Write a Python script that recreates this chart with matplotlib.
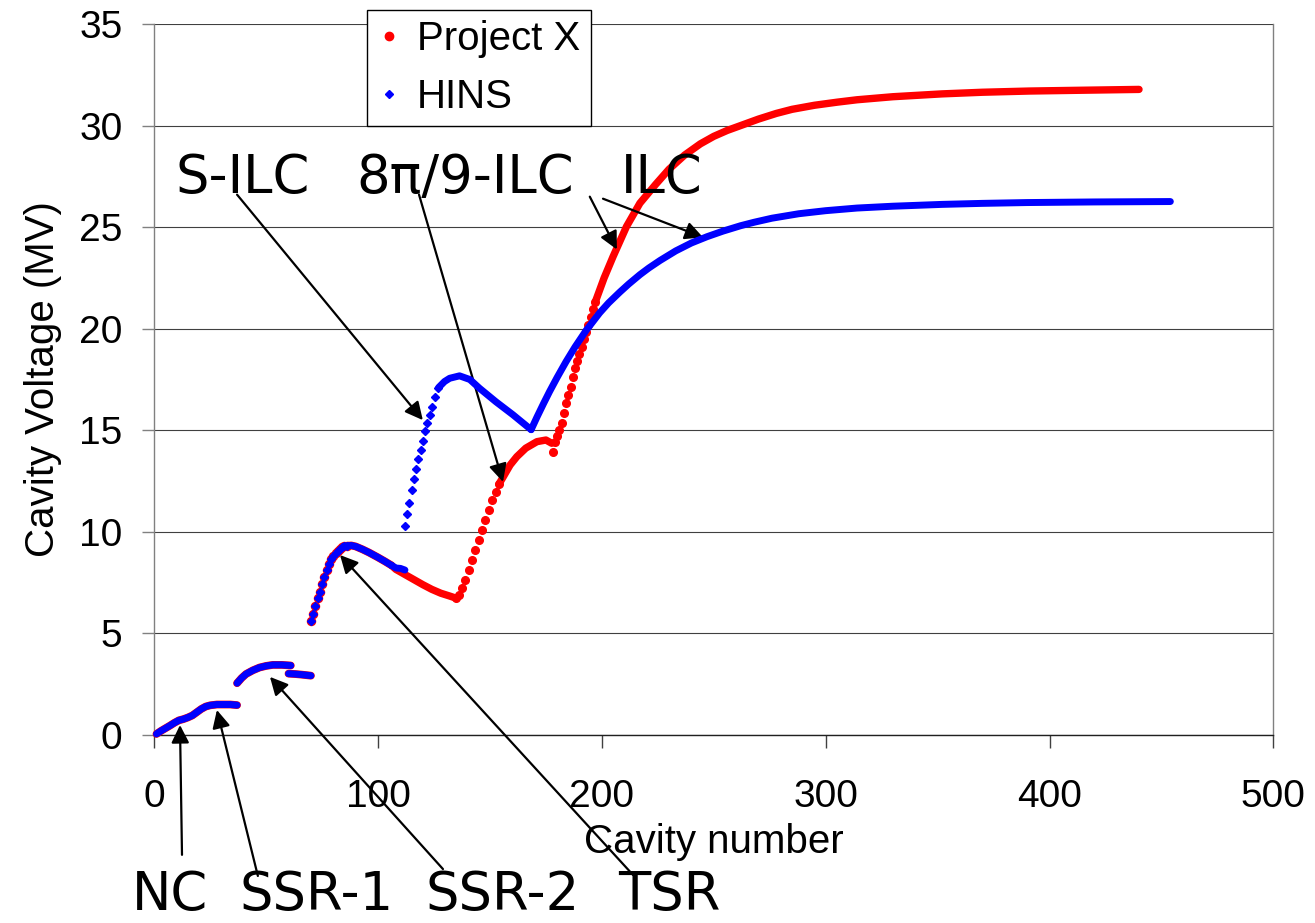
import matplotlib
matplotlib.use("Agg")
import matplotlib.pyplot as plt
from matplotlib.lines import Line2D

plt.rcParams['font.family'] = ['Liberation Sans', 'DejaVu Sans']

# ---- data (cavity number, cavity voltage in MV) ----
# low energy part is common to both linacs (NC, SSR-1, SSR-2, TSR)
nc_ssr1_cav = [1, 3, 5, 7, 9, 11, 13, 15, 17, 19, 21, 23, 25, 28, 31, 34, 37]
nc_ssr1_v = [0.05, 0.2, 0.33, 0.46, 0.6, 0.72, 0.78, 0.86, 0.96, 1.12, 1.28, 1.4, 1.46, 1.5, 1.5, 1.5, 1.47]

ssr2_cav = [37, 39, 41, 44, 47, 50, 53, 57, 61]
ssr2_v = [2.55, 2.8, 3.0, 3.18, 3.32, 3.4, 3.45, 3.45, 3.42]

ssr2b_cav = [60, 63, 66, 70]
ssr2b_v = [3.02, 3.0, 2.97, 2.92]

tsr_rise_cav = [70, 71, 72, 73, 74, 75, 76, 77, 78, 79, 80, 81, 82, 83, 84, 85, 86]
tsr_rise_v = [5.62, 5.98, 6.36, 6.72, 7.02, 7.42, 7.78, 8.1, 8.42, 8.66, 8.82, 8.98, 9.08, 9.18, 9.24, 9.28, 9.31]

tsr_fall_cav = [86, 88, 90, 93, 96, 100, 103, 106]
tsr_fall_v = [9.31, 9.33, 9.28, 9.14, 8.98, 8.74, 8.55, 8.35]

# Project X after the common part
px_tsr_cav = [106, 108, 112, 116, 120, 124, 128, 132, 135]
px_tsr_v = [8.35, 8.15, 7.9, 7.65, 7.4, 7.17, 6.98, 6.84, 6.73]

px_b89_dots_cav = [135, 136, 137.5, 139, 140.5, 142, 143.5, 145, 146.5, 148, 149.5, 151, 152.5, 154]
px_b89_dots_v = [6.73, 6.9, 7.25, 7.65, 8.12, 8.6, 9.1, 9.6, 10.1, 10.6, 11.08, 11.55, 11.98, 12.35]

px_b89_cav = [154, 156, 159, 162, 166, 171, 175, 177.6]
px_b89_v = [12.35, 12.72, 13.29, 13.7, 14.12, 14.44, 14.52, 14.36]

px_ilc_dots_cav = [178, 179, 180, 181, 182, 183, 184, 185, 186, 187, 188, 189, 190, 191, 192, 193, 194, 195, 196, 197]
px_ilc_dots_v = [13.95, 14.4, 14.7, 15.0, 15.35, 15.85, 16.35, 16.75, 17.15, 17.6, 18.05, 18.4,
                 18.75, 19.1, 19.5, 19.85, 20.2, 20.6, 20.95, 21.3]

px_ilc_cav = [197, 201, 205, 211, 217, 224, 230, 237, 244, 250, 256, 262, 270, 278, 285, 295,
              305, 314, 330, 352, 370, 391, 415, 440]
px_ilc_v = [21.3, 22.5, 23.55, 25.03, 26.18, 27.1, 27.85, 28.55, 29.1, 29.47, 29.76, 30.0, 30.32,
            30.6, 30.8, 31.0, 31.15, 31.27, 31.42, 31.56, 31.64, 31.7, 31.74, 31.78]

# HINS after the common part
hins_tsr_cav = [106, 108, 110, 112]
hins_tsr_v = [8.35, 8.22, 8.2, 8.12]

hins_silc_dots_cav = [112, 113, 114, 115, 116, 117, 118, 119, 120, 121, 122, 123, 124, 125.5, 127]
hins_silc_dots_v = [10.3, 10.9, 11.43, 12.04, 12.58, 13.07, 13.59, 14.05, 14.48, 14.95, 15.36,
                    15.77, 16.17, 16.66, 17.1]

hins_silc_cav = [127, 129.7, 132, 136.4, 141, 145.3, 152.7, 160.2, 168.4]
hins_silc_v = [17.1, 17.4, 17.56, 17.68, 17.5, 17.07, 16.4, 15.77, 15.03]

hins_ilc_cav = [168.4, 171, 174, 176.6, 180, 184, 188, 193, 199, 203, 208, 212, 217, 221, 226,
                233, 240, 247, 254, 262, 268, 276, 288, 300, 314, 330, 352, 370, 390, 420, 454]
hins_ilc_v = [15.03, 15.65, 16.33, 16.9, 17.6, 18.38, 19.1, 19.92, 20.78, 21.27, 21.8, 22.2, 22.66,
              22.99, 23.36, 23.83, 24.22, 24.53, 24.8, 25.07, 25.24, 25.44, 25.66, 25.81, 25.94,
              26.03, 26.12, 26.17, 26.21, 26.24, 26.26]

RED = '#FF0000'
BLUE = '#0000FF'

fig = plt.figure(figsize=(13.15, 9.23), dpi=100)
ax = fig.add_axes([0.1173, 0.2037, 0.851, 0.7703])


def dense(x, y, color, lw):
    ax.plot(x, y, color=color, lw=lw, solid_capstyle='round', solid_joinstyle='round',
            clip_on=False, zorder=3 if color == RED else 4)


def dots(x, y, color, marker, ms):
    ax.plot(x, y, ls='none', marker=marker, ms=ms, color=color, mec=color,
            clip_on=False, zorder=3 if color == RED else 4)


# Project X (drawn first, HINS sits on top of the common part)
dense(nc_ssr1_cav, nc_ssr1_v, RED, 5.6)
dense(ssr2_cav, ssr2_v, RED, 5.6)
dense(ssr2b_cav, ssr2b_v, RED, 5.6)
dots(tsr_rise_cav, tsr_rise_v, RED, 'o', 5.8)
dense(tsr_fall_cav, tsr_fall_v, RED, 5.6)
dense(px_tsr_cav, px_tsr_v, RED, 5.3)
dots(px_b89_dots_cav, px_b89_dots_v, RED, 'o', 5.5)
dense(px_b89_cav, px_b89_v, RED, 5.3)
dots(px_ilc_dots_cav, px_ilc_dots_v, RED, 'o', 5.5)
dense(px_ilc_cav, px_ilc_v, RED, 5.3)

# HINS
dense(nc_ssr1_cav, nc_ssr1_v, BLUE, 5.0)
dense(ssr2_cav, ssr2_v, BLUE, 5.0)
dense(ssr2b_cav, ssr2b_v, BLUE, 5.0)
dots(tsr_rise_cav, tsr_rise_v, BLUE, 'D', 4.0)
dense(tsr_fall_cav, tsr_fall_v, BLUE, 5.0)
dense(hins_tsr_cav, hins_tsr_v, BLUE, 5.0)
dots(hins_silc_dots_cav, hins_silc_dots_v, BLUE, 'D', 4.0)
dense(hins_silc_cav, hins_silc_v, BLUE, 5.0)
dense(hins_ilc_cav, hins_ilc_v, BLUE, 5.0)

ax.set_xlim(0, 500)
ax.set_ylim(0, 35)
ax.set_xticks(range(0, 501, 100))
ax.set_yticks(range(0, 36, 5))
ax.yaxis.grid(True, color='#404040', lw=0.8)
ax.set_axisbelow(True)
ax.tick_params(axis='both', direction='out', length=9, width=1, labelsize=28)
ax.tick_params(axis='x', pad=23, color='#404040')
ax.tick_params(axis='y', pad=14, color='#808080')
ax.spines['top'].set_visible(False)
ax.spines['right'].set_color('#808080')
ax.spines['left'].set_color('#808080')
ax.spines['bottom'].set_color('#202020')
for s in ax.spines.values():
    s.set_linewidth(1)

ax.set_xlabel('Cavity number', fontsize=29)
ax.set_ylabel('Cavity Voltage (MV)', fontsize=29)
ax.xaxis.set_label_coords(0.5, -0.124)
ax.yaxis.set_label_coords(-0.082, 0.5)

handles = [Line2D([], [], ls='none', marker='o', ms=6, color=RED),
           Line2D([], [], ls='none', marker='D', ms=4.5, color=BLUE)]
leg = ax.legend(handles, ['Project X', 'HINS'], loc='upper left', bbox_to_anchor=(0.19, 1.0197),
                borderaxespad=0, fontsize=29, frameon=True, fancybox=False, framealpha=1,
                edgecolor='black', handlelength=0.6, handletextpad=0.4, borderpad=0.25,
                labelspacing=0.5)
leg.get_frame().set_linewidth(1)
leg.set_zorder(10)

# handwritten style labels with arrows
hand = dict(fontsize=38, family=['DejaVu Sans'], ha='left', clip_on=False)
top_labels = [('S-ILC', 9.7), ('8\u03c0/9-ILC', 90.1), ('ILC', 208.5)]
for txt, x in top_labels:
    ax.text(x, 26.69, txt, va='baseline', **hand)
bottom_labels = [('NC', -10.0), ('SSR-1', 38.3), ('SSR-2', 121.0), ('TSR', 207.2)]
for txt, x in bottom_labels:
    ax.text(x, -9.17, txt, va='bottom', **hand)

arrows = [((11.5, 0.49), (12.4, -5.9)),
          ((28.0, 1.23), (46.3, -6.94)),
          ((51.7, 2.86), (129.0, -6.6)),
          ((83.0, 8.86), (214.0, -6.9)),
          ((120.0, 15.5), (37.0, 26.6)),
          ((155.8, 12.46), (118.3, 26.6)),
          ((206.7, 23.9), (194.6, 26.5)),
          ((245.2, 24.5), (200.5, 26.4))]
for tip, tail in arrows:
    ax.annotate('', xy=tip, xytext=tail, annotation_clip=False,
                arrowprops=dict(arrowstyle='-|>', color='black', lw=1.6,
                                mutation_scale=27, shrinkA=0, shrinkB=0))

fig.savefig('out.png', dpi=100)
